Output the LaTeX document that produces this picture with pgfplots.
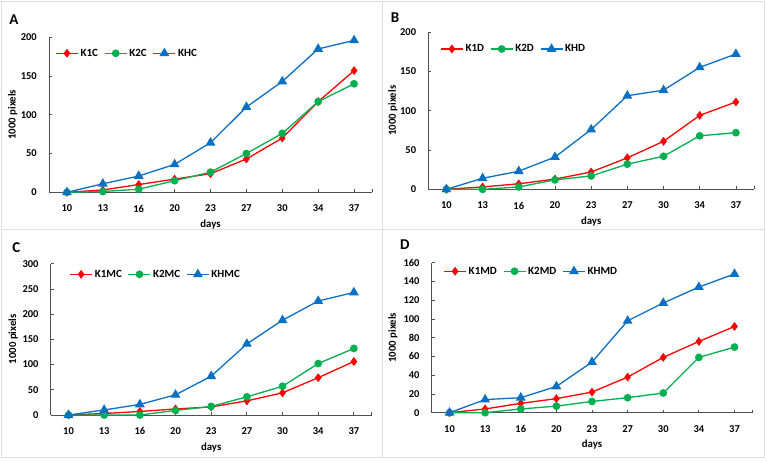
\documentclass[border=0pt]{standalone}
\usepackage{fontspec}
\setmainfont{Carlito}
\usepackage{pgfplots}
\pgfplotsset{compat=1.18}

\definecolor{cRed}{RGB}{255,0,0}
\definecolor{cGreen}{RGB}{0,176,80}
\definecolor{cBlue}{RGB}{10,112,196}
\definecolor{axisgray}{RGB}{80,80,80}
\definecolor{framegray}{RGB}{222,222,222}

\pgfplotsset{
  growth/.style={
    scale only axis,
    clip=false,
    xmin=-0.5, xmax=8.5,
    ymin=0,
    xtick={0,...,8},
    xticklabels={10,13,16,20,23,27,30,34,37},
    extra x ticks={-0.5,8.5},
    extra x tick labels={},
    axis x line*=bottom, axis y line*=left,
    axis line style={-, draw=axisgray, line width=0.8pt},
    tick style={draw=axisgray, line width=0.8pt},
    tick align=inside,
    major tick length=3pt,
    /pgf/number format/assume math mode=true,
    tick label style={font=\bfseries\fontsize{10.5}{12}\selectfont, text=black},
    xticklabel style={anchor=north, inner sep=0pt, yshift=-12.5pt},
    yticklabel style={anchor=east, inner sep=0pt, xshift=-12pt},
    label style={font=\bfseries\fontsize{10.8}{12}\selectfont},
    xlabel={days},
    xlabel style={at={(axis description cs:0.5,0)}, anchor=base, yshift=-35pt},
    ylabel={1000 pixels},
    legend columns=3,
    legend style={draw=none, fill=none, anchor=west, inner sep=0pt,
      font=\bfseries\fontsize{11}{13}\selectfont,
      /tikz/every even column/.append style={column sep=4pt}},
    legend cell align=left,
    legend image code/.code={\draw[mark repeat=2,mark phase=2]
      plot coordinates {(0pt,0pt) (11pt,0pt) (22pt,0pt)};},
  },
  kOne/.style={cRed, line width=1.3pt, mark=diamond*, mark size=3.4pt, mark options={solid, fill=cRed}},
  kTwo/.style={cGreen, line width=1.3pt, mark=*, mark size=3.2pt, mark options={solid, fill=cGreen}},
  kH/.style={cBlue, line width=1.3pt, mark=triangle*, mark size=4.4pt, mark options={solid, fill=cBlue}},
}

\begin{document}
\begin{tikzpicture}[x=1pt,y=1pt]
  % page background and panel frames
  \fill[white] (0,0) rectangle (767,461);
  \draw[framegray, line width=0.8pt] (1.7,4) rectangle (764,459.3);
  \draw[framegray, line width=0.8pt] (382.7,4) -- (382.7,459.3);
  \draw[framegray, line width=0.8pt] (1.7,231.7) -- (764,231.7);

  % panel letters
  \node[font=\bfseries\fontsize{15}{17}\selectfont] at (14,441) {A};
  \node[font=\bfseries\fontsize{15}{17}\selectfont] at (395,443) {B};
  \node[font=\bfseries\fontsize{15}{17}\selectfont] at (16.3,213) {C};
  \node[font=\bfseries\fontsize{15}{17}\selectfont] at (404.8,216) {D};

  % A: C treatment
  \begin{axis}[growth, at={(49pt,268.7pt)}, anchor=south west,
      width=323pt, height=155pt, ymax=200, ytick={0,50,...,200},
      ylabel style={at={([xshift=-36.3pt]axis description cs:0,0.5)}, anchor=center},
      legend style={at={(0.019,0.897)}}]
    \addplot[kOne] coordinates {(0,0) (1,3) (2,10) (3,17) (4,24) (5,43) (6,70) (7,117) (8,157)};
    \addplot[kTwo] coordinates {(0,0) (1,1) (2,4) (3,15) (4,26) (5,50) (6,76) (7,117) (8,140)};
    \addplot[kH] coordinates {(0,0) (1,11) (2,21) (3,36) (4,64) (5,110) (6,143) (7,185) (8,196)};
    \legend{K1C,K2C,KHC}
  \end{axis}

  % B: D treatment
  \begin{axis}[growth, at={(428.3pt,271.7pt)}, anchor=south west,
      width=325.7pt, height=157.3pt, ymax=200, ytick={0,50,...,200},
      ylabel style={at={([xshift=-35.3pt]axis description cs:0,0.5)}, anchor=center},
      legend style={at={(0.036,0.892)}}]
    \addplot[kOne] coordinates {(0,0) (1,3) (2,7) (3,13) (4,22) (5,40) (6,61) (7,94) (8,111)};
    \addplot[kTwo] coordinates {(0,0) (1,0) (2,3) (3,12) (4,17) (5,32) (6,42) (7,68) (8,72)};
    \addplot[kH] coordinates {(0,0) (1,14) (2,23) (3,41) (4,76) (5,119) (6,126) (7,155) (8,172)};
    \legend{K1D,K2D,KHD}
  \end{axis}

  % C: MC treatment
  \begin{axis}[growth, at={(50.7pt,46pt)}, anchor=south west,
      width=321pt, height=151.3pt, ymax=300, ytick={0,50,...,300},
      ylabel style={at={([xshift=-37.4pt]axis description cs:0,0.5)}, anchor=center},
      legend style={at={(0.058,0.93)}}]
    \addplot[kOne] coordinates {(0,0) (1,3) (2,7) (3,12) (4,16) (5,28) (6,44) (7,74) (8,106)};
    \addplot[kTwo] coordinates {(0,0) (1,0) (2,0) (3,9) (4,17) (5,36) (6,57) (7,102) (8,132)};
    \addplot[kH] coordinates {(0,0) (1,10) (2,21) (3,40) (4,77) (5,141) (6,188) (7,226) (8,243)};
    \legend{K1MC,K2MC,KHMC}
  \end{axis}

  % D: MD treatment
  \begin{axis}[growth, at={(431.7pt,48.3pt)}, anchor=south west,
      width=320.6pt, height=150pt, ymax=160, ytick={0,20,...,160},
      ylabel style={at={([xshift=-38.7pt]axis description cs:0,0.5)}, anchor=center},
      legend style={at={(0.036,0.943)}}]
    \addplot[kOne] coordinates {(0,0) (1,4) (2,10) (3,15) (4,22) (5,38) (6,59) (7,76) (8,92)};
    \addplot[kTwo] coordinates {(0,0) (1,0) (2,4) (3,7) (4,12) (5,16) (6,21) (7,59) (8,70)};
    \addplot[kH] coordinates {(0,0) (1,14) (2,16) (3,28) (4,54) (5,98) (6,117) (7,134) (8,148)};
    \legend{K1MD,K2MD,KHMD}
  \end{axis}
\end{tikzpicture}
\end{document}
